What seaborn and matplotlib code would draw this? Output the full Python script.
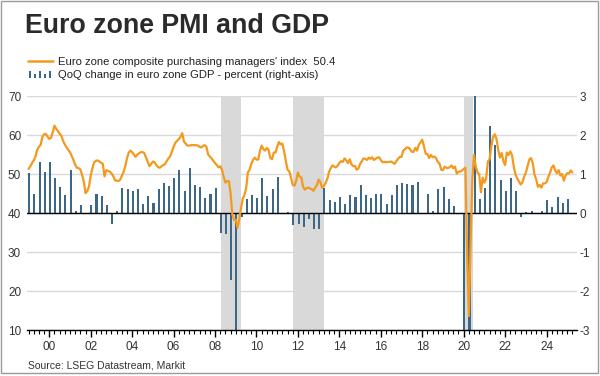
import matplotlib
matplotlib.use("Agg")
import matplotlib.pyplot as plt
import seaborn as sns
import numpy as np
import pandas as pd
from matplotlib.lines import Line2D
from matplotlib.patches import Rectangle
from matplotlib.legend_handler import HandlerBase

# Euro zone composite PMI, monthly from Jan 1999 to Apr 2025
pmi_start = 1999
pmi = [
    51.3, 52.0, 52.8, 53.5, 54.5, 56.2, 57.0, 57.5, 59.5, 60.2, 60.3, 59.6,  # 1999
    59.0, 59.3, 60.7, 62.4, 61.6, 61.0, 60.3, 59.8, 58.5, 57.6, 56.8, 56.2,  # 2000
    55.6, 54.6, 53.6, 52.4, 51.6, 51.5, 51.2, 49.8, 48.0, 45.1, 45.6, 46.8,  # 2001
    49.6, 51.5, 53.0, 53.4, 53.5, 53.2, 52.9, 52.6, 49.4, 51.0, 50.8, 50.6,  # 2002
    50.2, 49.5, 48.4, 48.3, 48.2, 48.5, 49.5, 50.5, 52.0, 54.0, 55.5, 56.0,  # 2003
    55.6, 55.0, 54.4, 55.0, 55.3, 55.6, 55.6, 55.4, 54.3, 53.2, 52.0, 52.6,  # 2004
    53.2, 53.0, 52.3, 51.8, 51.6, 52.0, 52.3, 52.5, 53.3, 54.0, 54.5, 55.7,  # 2005
    57.0, 58.0, 58.5, 59.0, 59.5, 60.5, 58.3, 57.8, 57.3, 57.3, 57.4, 57.4,  # 2006
    57.4, 57.4, 57.3, 57.0, 56.8, 57.2, 57.4, 57.0, 55.0, 54.5, 54.0, 53.4,  # 2007
    52.8, 52.3, 51.7, 52.0, 51.1, 49.3, 47.8, 48.2, 48.2, 45.1, 39.7, 38.2,  # 2008
    38.3, 36.2, 38.3, 41.1, 43.6, 44.6, 46.3, 50.4, 51.1, 52.6, 53.6, 54.2,  # 2009
    53.7, 53.7, 55.9, 57.3, 56.4, 56.0, 56.7, 56.2, 54.1, 53.8, 55.5, 55.5,  # 2010
    57.0, 58.2, 57.6, 57.8, 55.8, 53.3, 51.1, 50.7, 49.1, 47.2, 47.0, 48.3,  # 2011
    50.4, 49.3, 49.1, 46.7, 46.0, 46.4, 46.5, 46.3, 46.1, 45.7, 46.5, 47.2,  # 2012
    48.6, 47.9, 46.5, 46.9, 47.7, 48.7, 50.5, 51.5, 52.2, 51.9, 51.7, 52.1,  # 2013
    52.9, 53.3, 53.1, 54.0, 53.5, 52.8, 53.8, 52.5, 52.0, 52.1, 51.1, 51.4,  # 2014
    52.6, 53.3, 54.0, 53.9, 53.6, 54.2, 53.9, 54.3, 53.6, 53.9, 54.2, 54.3,  # 2015
    53.6, 53.0, 53.1, 53.0, 53.1, 53.1, 53.2, 52.9, 52.6, 53.3, 53.9, 54.4,  # 2016
    54.4, 56.0, 56.4, 56.8, 56.8, 56.3, 55.7, 55.7, 56.7, 56.0, 57.5, 58.1,  # 2017
    58.8, 57.1, 55.2, 55.1, 54.1, 54.9, 54.3, 54.5, 54.1, 53.1, 52.7, 51.1,  # 2018
    51.0, 51.9, 51.6, 51.5, 51.8, 52.2, 51.5, 51.9, 50.1, 50.6, 50.6, 50.9,  # 2019
    51.3, 51.6, 29.7, 13.6, 31.9, 48.5, 54.9, 51.9, 50.4, 50.0, 45.3, 49.1,  # 2020
    47.8, 48.8, 53.2, 53.8, 57.1, 59.5, 60.2, 59.0, 56.2, 54.2, 55.4, 53.3,  # 2021
    52.3, 55.5, 54.9, 55.8, 54.8, 52.0, 49.9, 48.9, 48.1, 47.3, 47.8, 49.3,  # 2022
    50.3, 52.0, 53.7, 54.1, 52.8, 49.9, 48.6, 46.7, 47.2, 46.5, 47.6, 47.6,  # 2023
    47.9, 49.2, 50.3, 51.7, 52.2, 50.9, 50.2, 51.0, 49.6, 50.0, 48.3, 49.6,  # 2024
    50.2, 50.2, 50.9, 50.4,                                                  # 2025
]

# QoQ GDP change (%), quarterly from 1999Q1 to 2025Q1
gdp_start = 1999
gdp = [
    1.02, 0.49, 1.31, 1.05,   # 1999
    1.31, 0.90, 0.66, 0.46,   # 2000
    1.10, 0.05, 0.21, -0.03,  # 2001
    0.20, 0.48, 0.44, 0.21,   # 2002
    -0.27, 0.04, 0.64, 0.62,  # 2003
    0.56, 0.62, 0.23, 0.43,   # 2004
    0.26, 0.62, 0.76, 0.69,   # 2005
    0.91, 1.10, 0.56, 1.15,   # 2006
    0.71, 0.66, 0.38, 0.49,   # 2007
    0.64, -0.50, -0.54, -1.71,  # 2008
    -3.10, -0.10, 0.37, 0.46,   # 2009
    0.38, 0.91, 0.44, 0.62,   # 2010
    0.92, 0.00, 0.02, -0.31,  # 2011
    -0.28, -0.35, -0.16, -0.40,  # 2012
    -0.40, 0.65, 0.33, 0.27,  # 2013
    0.42, 0.23, 0.46, 0.41,   # 2014
    0.72, 0.46, 0.38, 0.50,   # 2015
    0.50, 0.23, 0.46, 0.72,   # 2016
    0.76, 0.74, 0.72, 0.79,   # 2017
    0.00, 0.50, 0.05, 0.62,   # 2018
    0.66, 0.37, 0.18, 0.00,   # 2019
    -3.50, -11.50, 12.50, 0.36,  # 2020
    0.64, 2.22, 1.75, 0.85,   # 2021
    0.56, 0.89, 0.56, -0.11,  # 2022
    0.02, 0.06, 0.00, 0.04,   # 2023
    0.33, 0.15, 0.40, 0.25,   # 2024
    0.36,                     # 2025
]

# recession periods (shaded)
recessions = [(2008.28, 2009.25), (2011.75, 2013.25), (2020.02, 2020.45)]

tick_years = list(range(2000, 2025, 2))
tick_labels = [f"{y % 100:02d}" for y in tick_years]

ORANGE = "#f39a1e"
BLUE = "#3d6787"
SHADE = "#d9d9d9"

pmi_t = pmi_start + np.arange(len(pmi)) / 12
gdp_t = gdp_start + np.arange(len(gdp)) / 4 + 0.03
df_pmi = pd.DataFrame({"t": pmi_t, "pmi": pmi})

sns.set_theme(style="white")
plt.rcParams["font.family"] = ["Liberation Sans", "DejaVu Sans"]
plt.rcParams["axes.unicode_minus"] = False

fig = plt.figure(figsize=(6, 3.76), dpi=100)
ax = fig.add_axes([0.0445, 0.1223, 0.9165, 0.6223])
ax2 = ax.twinx()

# bars + shading + grid on the right axis
for a, b in recessions:
    ax2.axvspan(a, b, color=SHADE, lw=0, zorder=1)
ax2.bar(gdp_t, gdp, width=0.1, color=BLUE, edgecolor="none", linewidth=0,
        antialiased=False, zorder=2)
ax2.axhline(0, color="black", lw=1, zorder=2.5)
ax2.set_ylim(-3, 3)
ax2.set_yticks(range(-3, 4))
ax2.yaxis.grid(True, color=SHADE, lw=1)
ax2.set_axisbelow(True)
for s in ax2.spines.values():
    s.set_visible(False)
ax2.tick_params(axis="y", length=0, pad=2, labelsize=8.5, labelcolor="#333333")

# PMI line on the left axis, drawn on top
sns.lineplot(data=df_pmi, x="t", y="pmi", ax=ax, color=ORANGE, lw=1.6)
ax.set_zorder(ax2.get_zorder() + 1)
ax.patch.set_visible(False)
ax.set_ylim(10, 70)
ax.set_yticks(range(10, 71, 10))
ax.set_xlim(1998.91, 2025.45)
ax.set_xticks(tick_years)
ax.set_xticklabels(tick_labels)
ax.set_xticks(np.arange(1999, 2025.5, 0.25), minor=True)
ax.set_xlabel("")
ax.set_ylabel("")
for k in ["top", "left", "right"]:
    ax.spines[k].set_visible(False)
ax.spines["bottom"].set_color("black")
ax.spines["bottom"].set_linewidth(1)
ax.tick_params(axis="x", which="major", bottom=True, length=5, width=1, color="black",
               pad=3, labelsize=8.5, labelcolor="#333333")
ax.tick_params(axis="x", which="minor", bottom=True, length=3, width=0.8, color="black")
ax.tick_params(axis="y", length=0, pad=4, labelsize=8.5, labelcolor="#333333")

# title, legend, source
fig.text(25 / 600, 1 - 33 / 376, "Euro zone PMI and GDP", fontsize=19.3,
         fontweight="bold", color="#2b2b2b", va="baseline")


class BarIcon:
    pass


class BarIconHandler(HandlerBase):
    def create_artists(self, legend, orig_handle, xdescent, ydescent, width,
                       height, fontsize, trans):
        hs = [0.95, 0.6, 0.95, 0.6, 0.95]
        step = width / len(hs)
        arts = []
        for i, h in enumerate(hs):
            arts.append(Rectangle((-xdescent + i * step + step * 0.25, -ydescent),
                                  step * 0.4, height * h, facecolor=BLUE,
                                  edgecolor="none", transform=trans))
        return arts


handles = [Line2D([], [], color=ORANGE, lw=1.8), BarIcon()]
labels = ["Euro zone composite purchasing managers' index  50.4",
          "QoQ change in euro zone GDP - percent (right-axis)"]
fig.legend(handles, labels, handler_map={BarIcon: BarIconHandler()},
           loc="upper left", bbox_to_anchor=(28 / 600, 1 - 57 / 376),
           frameon=False, fontsize=8.1, handlelength=2.2, handletextpad=0.45,
           labelspacing=0.3, borderaxespad=0, borderpad=0, labelcolor="#222222")

fig.text(28 / 600, 1 - 369 / 376, "Source: LSEG Datastream, Markit",
         fontsize=7.5, color="#333333", va="baseline")

fig.add_artist(Rectangle((0.5 / 600, 3 / 376), 597 / 600, 372.5 / 376,
                         transform=fig.transFigure, fill=False,
                         edgecolor="#9a9a9a", lw=1))

fig.savefig("out.png", dpi=100)
